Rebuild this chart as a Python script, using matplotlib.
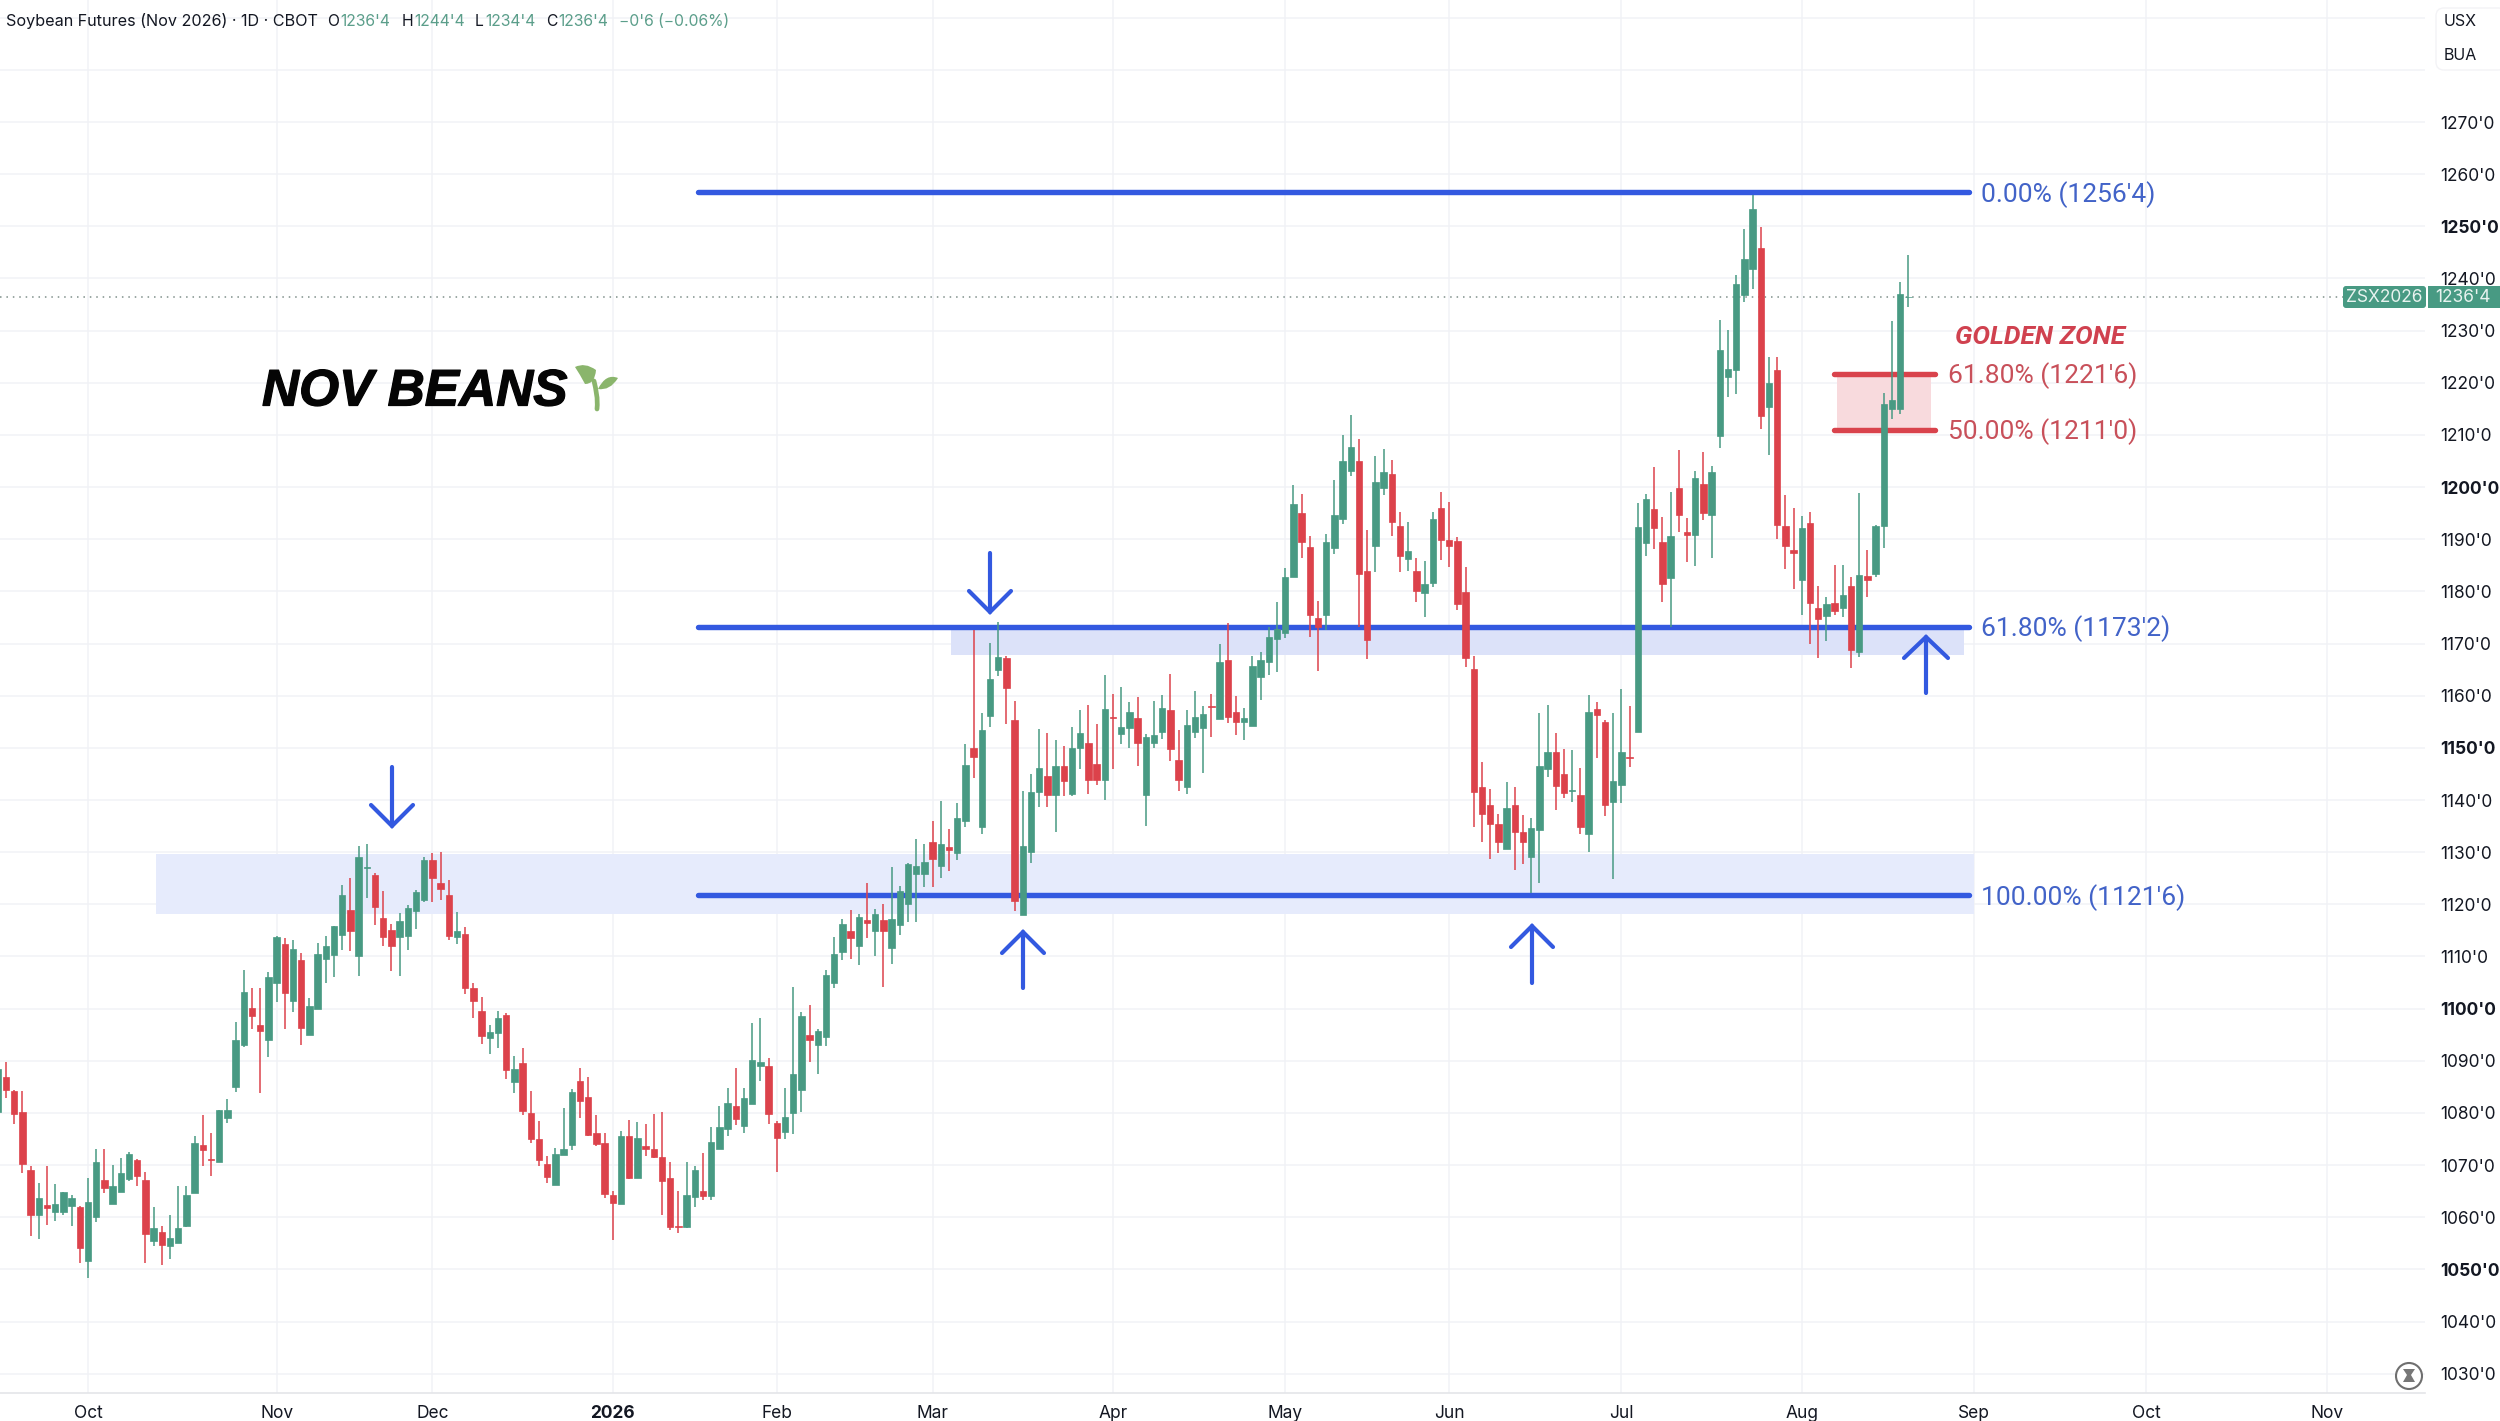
#!/usr/bin/env python3
import numpy as np
from matplotlib import pyplot as plt
from matplotlib import patheffects as pe
from matplotlib.patches import Circle, FancyBboxPatch, PathPatch, Polygon, Rectangle
from matplotlib.path import Path

first_bar = -11

highs = [
    1089.5,1089.8,1084.4,1084.3,1069.8,1066.6,1069.8,1066.4,1064.9,1064.3,
    1062.1,1067.6,1073.0,1073.0,1070.1,1071.3,1072.5,1071.2,1068.7,1062.0,
    1058.3,1060.4,1066.0,1066.0,1075.6,1079.6,1076.1,1080.6,1082.6,1097.5,
    1107.5,1103.9,1104.0,1107.0,1113.9,1113.6,1113.2,1110.7,1102.0,1112.5,
    1114.0,1115.8,1123.7,1125.0,1131.2,1131.6,1126.1,1122.6,1116.2,1118.3,
    1119.8,1122.7,1129.0,1129.8,1130.1,1124.7,1118.5,1115.7,1105.0,1102.3,
    1096.8,1099.5,1099.2,1090.9,1092.5,1084.2,1078.5,1071.7,1073.3,1081.0,
    1084.5,1088.7,1086.8,1079.6,1076.2,1065.0,1076.6,1078.7,1078.2,1077.8,
    1079.8,1080.1,1070.6,1065.0,1070.6,1069.8,1072.3,1077.3,1081.4,1084.7,
    1088.7,1084.7,1097.3,1098.2,1090.6,1078.5,1084.7,1104.2,1099.3,1100.7,
    1096.0,1107.4,1113.8,1117.1,1119.0,1118.2,1124.0,1119.2,1120.0,1127.2,
    1123.6,1128.0,1132.5,1131.5,1136.0,1139.8,1134.5,1139.5,1150.7,1172.6,
    1156.6,1170.2,1174.2,1167.7,1159.0,1141.7,1145.0,1153.7,1152.8,1151.5,
    1150.4,1154.0,1157.2,1158.2,1154.5,1164.0,1160.4,1161.7,1158.8,1159.8,
    1152.6,1159.0,1160.2,1164.2,1153.4,1157.2,1161.0,1158.0,1160.4,1169.9,
    1173.9,1159.9,1157.7,1167.7,1168.4,1173.2,1178.0,1184.4,1200.4,1198.7,
    1190.7,1178.2,1191.1,1201.3,1209.9,1213.9,1209.3,1191.7,1206.0,1207.4,
    1205.2,1195.2,1193.4,1186.4,1185.9,1195.2,1199.0,1197.2,1190.4,1184.7,
    1167.7,1147.2,1142.1,1137.4,1143.4,1142.5,1137.2,1136.5,1156.6,1158.2,
    1152.8,1149.8,1149.6,1146.1,1160.2,1158.7,1155.3,1156.6,1161.2,1158.0,
    1196.9,1198.7,1203.9,1194.2,1199.0,1207.2,1194.0,1203.1,1206.7,1204.0,
    1232.0,1230.2,1240.7,1249.4,1256.0,1249.9,1225.0,1225.0,1198.5,1196.0,
    1194.4,1195.2,1181.0,1179.0,1185.1,1185.1,1182.8,1198.8,1187.9,1192.8,
    1218.0,1231.8,1239.4,1244.5,
]
lows = [
    1079.5,1082.8,1077.8,1068.4,1056.4,1055.9,1058.6,1059.3,1060.4,1058.3,
    1051.3,1048.3,1059.1,1064.6,1062.5,1064.9,1066.9,1065.9,1051.3,1054.5,
    1050.9,1052.0,1055.0,1058.1,1064.7,1069.9,1068.0,1070.6,1078.0,1084.1,
    1092.6,1096.1,1083.9,1090.8,1101.3,1096.1,1099.4,1093.0,1094.9,1099.9,
    1105.0,1106.1,1111.2,1111.0,1106.3,1121.3,1116.1,1112.1,1107.3,1106.3,
    1111.3,1115.3,1120.5,1120.5,1120.8,1113.2,1112.4,1102.9,1098.3,1093.3,
    1091.3,1092.4,1086.6,1083.9,1079.7,1074.3,1069.9,1066.5,1066.2,1071.9,
    1072.9,1079.1,1075.6,1073.6,1063.6,1055.6,1062.5,1067.4,1067.5,1071.8,
    1071.3,1060.4,1057.6,1056.9,1058.0,1062.0,1063.4,1063.4,1073.1,1075.6,
    1077.6,1076.1,1081.7,1086.1,1077.8,1068.7,1075.0,1075.9,1080.1,1089.8,
    1087.5,1092.9,1103.9,1109.3,1109.5,1108.3,1113.6,1110.1,1104.2,1108.5,
    1114.1,1116.6,1116.6,1123.4,1123.4,1125.0,1126.4,1128.5,1134.9,1144.3,
    1133.4,1154.0,1163.8,1154.5,1118.8,1117.9,1128.0,1138.6,1138.6,1133.8,
    1140.8,1140.8,1145.9,1141.1,1142.9,1140.1,1145.9,1150.8,1149.9,1146.6,
    1135.1,1149.9,1151.7,1147.5,1141.8,1141.1,1151.8,1145.1,1152.1,1155.5,
    1154.8,1152.5,1151.6,1154.2,1159.1,1164.0,1164.6,1171.0,1182.8,1186.5,
    1171.3,1164.8,1172.6,1187.2,1193.0,1202.1,1173.2,1167.0,1183.8,1198.5,
    1190.7,1183.7,1184.0,1178.0,1175.0,1180.8,1186.0,1184.7,1176.4,1165.6,
    1134.8,1132.0,1128.7,1129.9,1130.7,1126.6,1127.7,1122.1,1124.0,1144.5,
    1138.0,1140.4,1139.7,1133.4,1130.1,1148.0,1137.0,1124.8,1139.4,1146.4,
    1153.0,1186.8,1188.1,1178.0,1173.2,1191.3,1185.6,1184.9,1193.7,1186.5,
    1207.5,1217.2,1217.8,1235.5,1238.0,1211.1,1206.2,1190.0,1184.3,1180.5,
    1175.4,1169.9,1167.3,1170.5,1175.5,1175.1,1165.4,1167.5,1178.9,1182.7,
    1188.3,1213.0,1214.0,1234.5,
]
opens = [
    1080.2,1086.8,1084.2,1080.1,1069.0,1060.5,1062.3,1061.1,1061.0,1062.2,
    1062.0,1051.7,1060.0,1067.1,1062.5,1064.9,1067.3,1070.9,1067.1,1055.5,
    1057.1,1054.5,1055.0,1058.4,1064.7,1073.8,1071.1,1070.6,1079.0,1084.9,
    1093.0,1100.1,1096.8,1094.0,1105.0,1112.3,1101.5,1109.3,1094.9,1099.9,
    1109.5,1110.3,1114.2,1119.0,1110.1,1126.9,1125.6,1117.4,1115.0,1113.8,
    1113.9,1118.8,1120.8,1128.5,1124.0,1121.8,1113.8,1114.4,1103.9,1099.5,
    1094.4,1095.3,1098.7,1086.0,1089.5,1080.0,1075.0,1070.3,1066.2,1071.9,
    1073.8,1086.2,1083.0,1076.2,1074.2,1064.3,1062.5,1075.5,1067.5,1073.6,
    1073.0,1071.6,1067.6,1058.4,1058.2,1063.8,1065.0,1064.1,1073.1,1077.0,
    1081.4,1077.5,1081.7,1089.0,1089.0,1078.0,1076.3,1080.0,1084.4,1095.0,
    1093.0,1094.5,1105.0,1110.9,1114.9,1112.0,1117.0,1114.9,1117.0,1111.7,
    1116.0,1120.0,1125.9,1125.9,1132.0,1127.4,1131.0,1129.8,1136.0,1150.0,
    1134.9,1156.2,1164.9,1167.2,1155.3,1117.9,1130.0,1141.5,1144.7,1141.0,
    1146.5,1141.1,1150.0,1151.0,1147.0,1143.9,1155.9,1152.7,1153.9,1155.8,
    1141.0,1150.9,1153.0,1157.2,1147.6,1142.5,1153.0,1153.9,1158.1,1155.5,
    1166.9,1156.9,1154.9,1154.2,1163.6,1166.4,1170.9,1172.0,1182.8,1195.0,
    1188.5,1174.9,1175.5,1188.4,1193.9,1203.1,1205.0,1183.9,1188.7,1199.8,
    1202.5,1192.5,1186.2,1183.9,1179.6,1181.7,1196.0,1189.9,1189.7,1179.9,
    1165.2,1142.5,1139.0,1135.4,1130.7,1139.0,1133.9,1129.0,1134.2,1146.0,
    1149.2,1145.0,1141.7,1141.0,1133.5,1157.4,1155.0,1139.7,1142.9,1148.2,
    1153.0,1189.2,1195.8,1189.5,1182.5,1199.9,1191.4,1190.9,1200.5,1194.7,
    1209.8,1221.2,1222.4,1236.8,1241.9,1245.8,1215.4,1222.5,1192.5,1188.0,
    1182.2,1193.2,1176.9,1175.2,1177.7,1176.9,1181.0,1168.4,1182.9,1183.3,
    1192.5,1215.0,1214.9,1236.5,
]
closes = [
    1088.5,1084.4,1079.8,1070.3,1060.5,1063.6,1061.7,1062.5,1064.8,1063.6,
    1054.1,1063.0,1070.6,1065.7,1066.0,1068.5,1072.1,1067.9,1056.8,1058.0,
    1054.7,1056.0,1057.9,1064.3,1074.2,1072.8,1071.0,1080.6,1080.6,1094.0,
    1103.1,1098.5,1095.8,1106.1,1113.7,1103.0,1111.5,1096.3,1100.6,1110.5,
    1112.0,1115.8,1121.8,1114.9,1129.0,1127.1,1119.5,1113.8,1112.0,1116.8,
    1119.3,1122.3,1128.5,1125.0,1122.9,1113.9,1114.8,1103.9,1101.5,1094.7,
    1095.5,1098.3,1088.2,1088.4,1080.3,1075.0,1071.0,1067.7,1072.2,1073.0,
    1084.0,1082.3,1075.7,1074.1,1064.4,1062.8,1075.5,1067.6,1075.2,1073.0,
    1071.6,1067.0,1058.2,1058.2,1064.3,1069.0,1064.0,1074.5,1077.3,1082.0,
    1078.9,1082.8,1090.1,1089.8,1079.8,1075.2,1079.3,1087.4,1098.5,1093.9,
    1095.7,1106.5,1110.4,1116.3,1113.5,1117.5,1116.5,1118.2,1114.9,1117.2,
    1122.5,1127.7,1127.4,1128.2,1128.7,1131.5,1130.4,1136.5,1146.7,1148.2,
    1153.4,1163.2,1167.5,1161.5,1120.7,1131.2,1141.5,1146.2,1141.0,1146.5,
    1143.6,1150.0,1152.8,1143.9,1143.9,1157.4,1155.7,1154.0,1156.9,1150.9,
    1152.0,1152.5,1157.7,1149.8,1143.9,1154.4,1156.0,1156.5,1157.9,1166.5,
    1156.0,1154.9,1155.7,1165.7,1166.9,1171.2,1172.8,1182.8,1196.7,1189.5,
    1175.5,1173.2,1189.5,1194.7,1205.0,1207.7,1183.4,1170.7,1200.9,1202.9,
    1193.4,1186.7,1187.7,1180.1,1181.5,1193.9,1189.9,1188.7,1177.6,1167.2,
    1141.5,1137.4,1135.4,1131.9,1138.5,1133.9,1131.9,1134.7,1146.5,1149.2,
    1142.7,1141.4,1141.9,1134.9,1156.9,1156.3,1139.0,1143.7,1149.2,1148.0,
    1192.3,1197.7,1192.2,1181.5,1190.7,1194.6,1190.9,1201.7,1195.0,1202.9,
    1226.2,1222.6,1239.0,1243.7,1253.4,1213.6,1219.9,1192.7,1188.7,1187.4,
    1192.2,1177.7,1174.7,1177.6,1176.2,1179.4,1168.8,1183.1,1182.2,1192.5,
    1215.9,1216.7,1237.1,1236.5,
]

month_bars = [0, 23, 42, 64, 84, 103, 125, 146, 166, 187, 209, 230, 251, 273]
month_labels = ['Oct', 'Nov', 'Dec', '2026', 'Feb', 'Mar', 'Apr', 'May', 'Jun',
                'Jul', 'Aug', 'Sep', 'Oct', 'Nov']
price_ticks = list(range(1030, 1300, 10))
top_label = 1270
bold_ticks = [1050, 1100, 1150, 1200, 1250]

fib_levels = [1256.5, 1173.25, 1121.75]
fib_labels = ["0.00% (1256'4)", "61.80% (1173'2)", "100.00% (1121'6)"]
golden_levels = [1221.75, 1211.0]
golden_labels = ["61.80% (1221'6)", "50.00% (1211'0)"]
zone_low = [1118.1, 1167.8]
zone_high = [1129.6, 1173.25]
last_price = 1236.5

green = '#489a83'
red = '#dc424b'
blue = '#3359e0'
fib_txt = '#4263c8'
gold_red = '#d9434c'
gold_txt = '#c8505a'
ink = '#131722'
ui = 'Inter'

W, H = 2500, 1421
dpi = 100
fig = plt.figure(figsize=(W / dpi, H / dpi), dpi=dpi)
ax = fig.add_axes([0, (H - 1393) / H, 2425 / W, 1393 / H])
ax.set_xlim(-10.73, 285.0)
ax.set_ylim(1026.3, 1293.4)

x = np.arange(len(opens)) + first_bar
o = np.array(opens)
c = np.array(closes)
cols = [green if b >= a else red for a, b in zip(o, c)]

ax.set_axisbelow(True)
ax.grid(True, color='#f1f2f6', lw=1.1)
ax.set_xticks(month_bars)
ax.set_xticklabels(month_labels, fontsize=12.5, family=ui, color=ink)
ax.get_xticklabels()[3].set_fontweight('bold')
ax.yaxis.tick_right()
ax.set_yticks(price_ticks)
ax.set_yticklabels([f"{p}'0" if p <= top_label else '' for p in price_ticks],
                   fontsize=12.5, family=ui, color=ink)
for t, p in zip(ax.get_yticklabels(), price_ticks):
    if p in bold_ticks:
        t.set_fontweight('bold')
ax.tick_params(axis='y', length=0, pad=11)
ax.tick_params(axis='x', length=0, pad=9)
for s in ['top', 'left', 'right']:
    ax.spines[s].set_visible(False)
ax.spines['bottom'].set_color('#e4e5e9')
ax.spines['bottom'].set_linewidth(1.2)

# shaded support bands
ax.fill_between([8.3, 230.0], zone_low[0], zone_high[0], color='#e6ebfc', lw=0, zorder=1)
ax.fill_between([105.3, 228.8], zone_low[1], zone_high[1], color='#dce2f9', lw=0, zorder=1)

ax.axhline(last_price, color='#7f8f8a', lw=1.1, ls=(0, (1, 3.2)), zorder=2)

for lev, lab in zip(fib_levels, fib_labels):
    ax.plot([74.4, 229.4], [lev, lev], color=blue, lw=3.9, solid_capstyle='round', zorder=3)
    ax.text(230.8, lev - 0.4, lab, color=fib_txt, fontsize=19, family='Roboto', va='center', zorder=5)

ax.fill_between([213.3, 224.8], golden_levels[1], golden_levels[0], color='#f8dadd', lw=0, zorder=2)
for lev, lab in zip(golden_levels, golden_labels):
    ax.plot([212.9, 225.2], [lev, lev], color=gold_red, lw=3.9, solid_capstyle='round', zorder=3)
    ax.text(226.8, lev - 0.4, lab, color=gold_txt, fontsize=19, family='Roboto', va='center', zorder=5)
ax.text(227.7, 1228.8, 'GOLDEN ZONE', color='#d0414f', fontsize=19, family='Roboto',
        fontweight='bold', fontstyle='italic', va='center', zorder=5)

# candles on top of the drawings
ax.vlines(x, lows, highs, colors=cols, lw=1.1, zorder=6)
ax.bar(x, np.abs(c - o), bottom=np.minimum(o, c), width=0.8, color=cols, edgecolor=cols,
       lw=0.5, zorder=7)

# overlay in image pixels for the hand drawn bits and the tradingview chrome
ov = fig.add_axes([0, 0, 1, 1], facecolor='none')
ov.set_xlim(0, W)
ov.set_ylim(H, 0)
ov.axis('off')

arrows = [(392, 826, 767, 21), (990, 612, 553, 21), (1023, 932, 988, 21),
          (1532, 926, 983, 21), (1926, 637, 693, 22)]
for ax_x, tip, tail, wing in arrows:
    d = 21 if tail > tip else -21
    ov.plot([ax_x, ax_x], [tip, tail], color=blue, lw=3.0, solid_capstyle='round')
    ov.plot([ax_x - wing, ax_x, ax_x + wing], [tip + d, tip, tip + d], color=blue, lw=3.0,
            solid_capstyle='round', solid_joinstyle='miter')

ov.text(262, 392, 'NOV BEANS', fontsize=37, family='Liberation Sans', fontweight='bold',
        fontstyle='italic', color='#050505', va='center', ha='left',
        path_effects=[pe.withStroke(linewidth=0.9, foreground='#050505')])
leaf = '#8ab56c'
stem = Path([(597, 409), (598, 398), (596, 390), (594, 381)],
            [Path.MOVETO, Path.CURVE4, Path.CURVE4, Path.CURVE4])
ov.add_patch(PathPatch(stem, fc='none', ec=leaf, lw=3.4, capstyle='round'))
left_leaf = Path([(575, 367), (585, 362), (596, 370), (595, 384), (585, 384), (580, 375), (575, 367)],
                 [Path.MOVETO, Path.CURVE3, Path.CURVE3, Path.CURVE3, Path.CURVE3, Path.LINETO, Path.CLOSEPOLY])
ov.add_patch(PathPatch(left_leaf, fc=leaf, ec='none'))
right_leaf = Path([(618, 378), (606, 373), (598, 389), (610, 391), (618, 378), (618, 378)],
                  [Path.MOVETO, Path.CURVE3, Path.CURVE3, Path.CURVE3, Path.CURVE3, Path.CLOSEPOLY])
ov.add_patch(PathPatch(right_leaf, fc=leaf, ec='none'))

hdr_y = 21
hdr_green = '#5b9e8a'
ov.text(6, hdr_y, 'Soybean Futures (Nov 2026) · 1D · CBOT', fontsize=11.65, family=ui, color=ink, va='center')
for px, s, col in [(327, 'O', ink), (340, "1236'4", hdr_green), (402, 'H', ink), (414, "1244'4", hdr_green),
                   (475, 'L', ink), (485, "1234'4", hdr_green), (546, 'C', ink), (558, "1236'4", hdr_green),
                   (619, "−0'6 (−0.06%)", hdr_green)]:
    ov.text(px, hdr_y, s, fontsize=11.3, family=ui, color=col, va='center')

ov.add_patch(FancyBboxPatch((2436, 8), 70, 62, boxstyle='round,pad=0,rounding_size=8',
                            fc='white', ec='#f3f3f6', lw=1))
ov.text(2444, 21, 'USX', fontsize=11.5, family=ui, color=ink, va='center')
ov.text(2444, 55, 'BUA', fontsize=11.5, family=ui, color=ink, va='center')

ov.add_patch(FancyBboxPatch((2343, 286), 83, 22, boxstyle='round,pad=0,rounding_size=3', fc=green, ec='none'))
ov.add_patch(Rectangle((2428, 286), 72, 22, fc=green, ec='none'))
ov.text(2384.5, 297, 'ZSX2026', fontsize=12.5, family=ui, color='#e8f3ef', ha='center', va='center')
ov.text(2463, 297, "1236'4", fontsize=12.5, family=ui, color='#e8f3ef', ha='center', va='center')

ov.add_patch(Circle((2409, 1376), 13, fc='white', ec='#6f6f6f', lw=1.5))
ov.add_patch(Polygon([(2403, 1369), (2415, 1369), (2411, 1375), (2415, 1382), (2403, 1382), (2407, 1375)],
                     closed=True, fc='#777777', ec='none'))

plt.savefig('out.png', dpi=dpi)
